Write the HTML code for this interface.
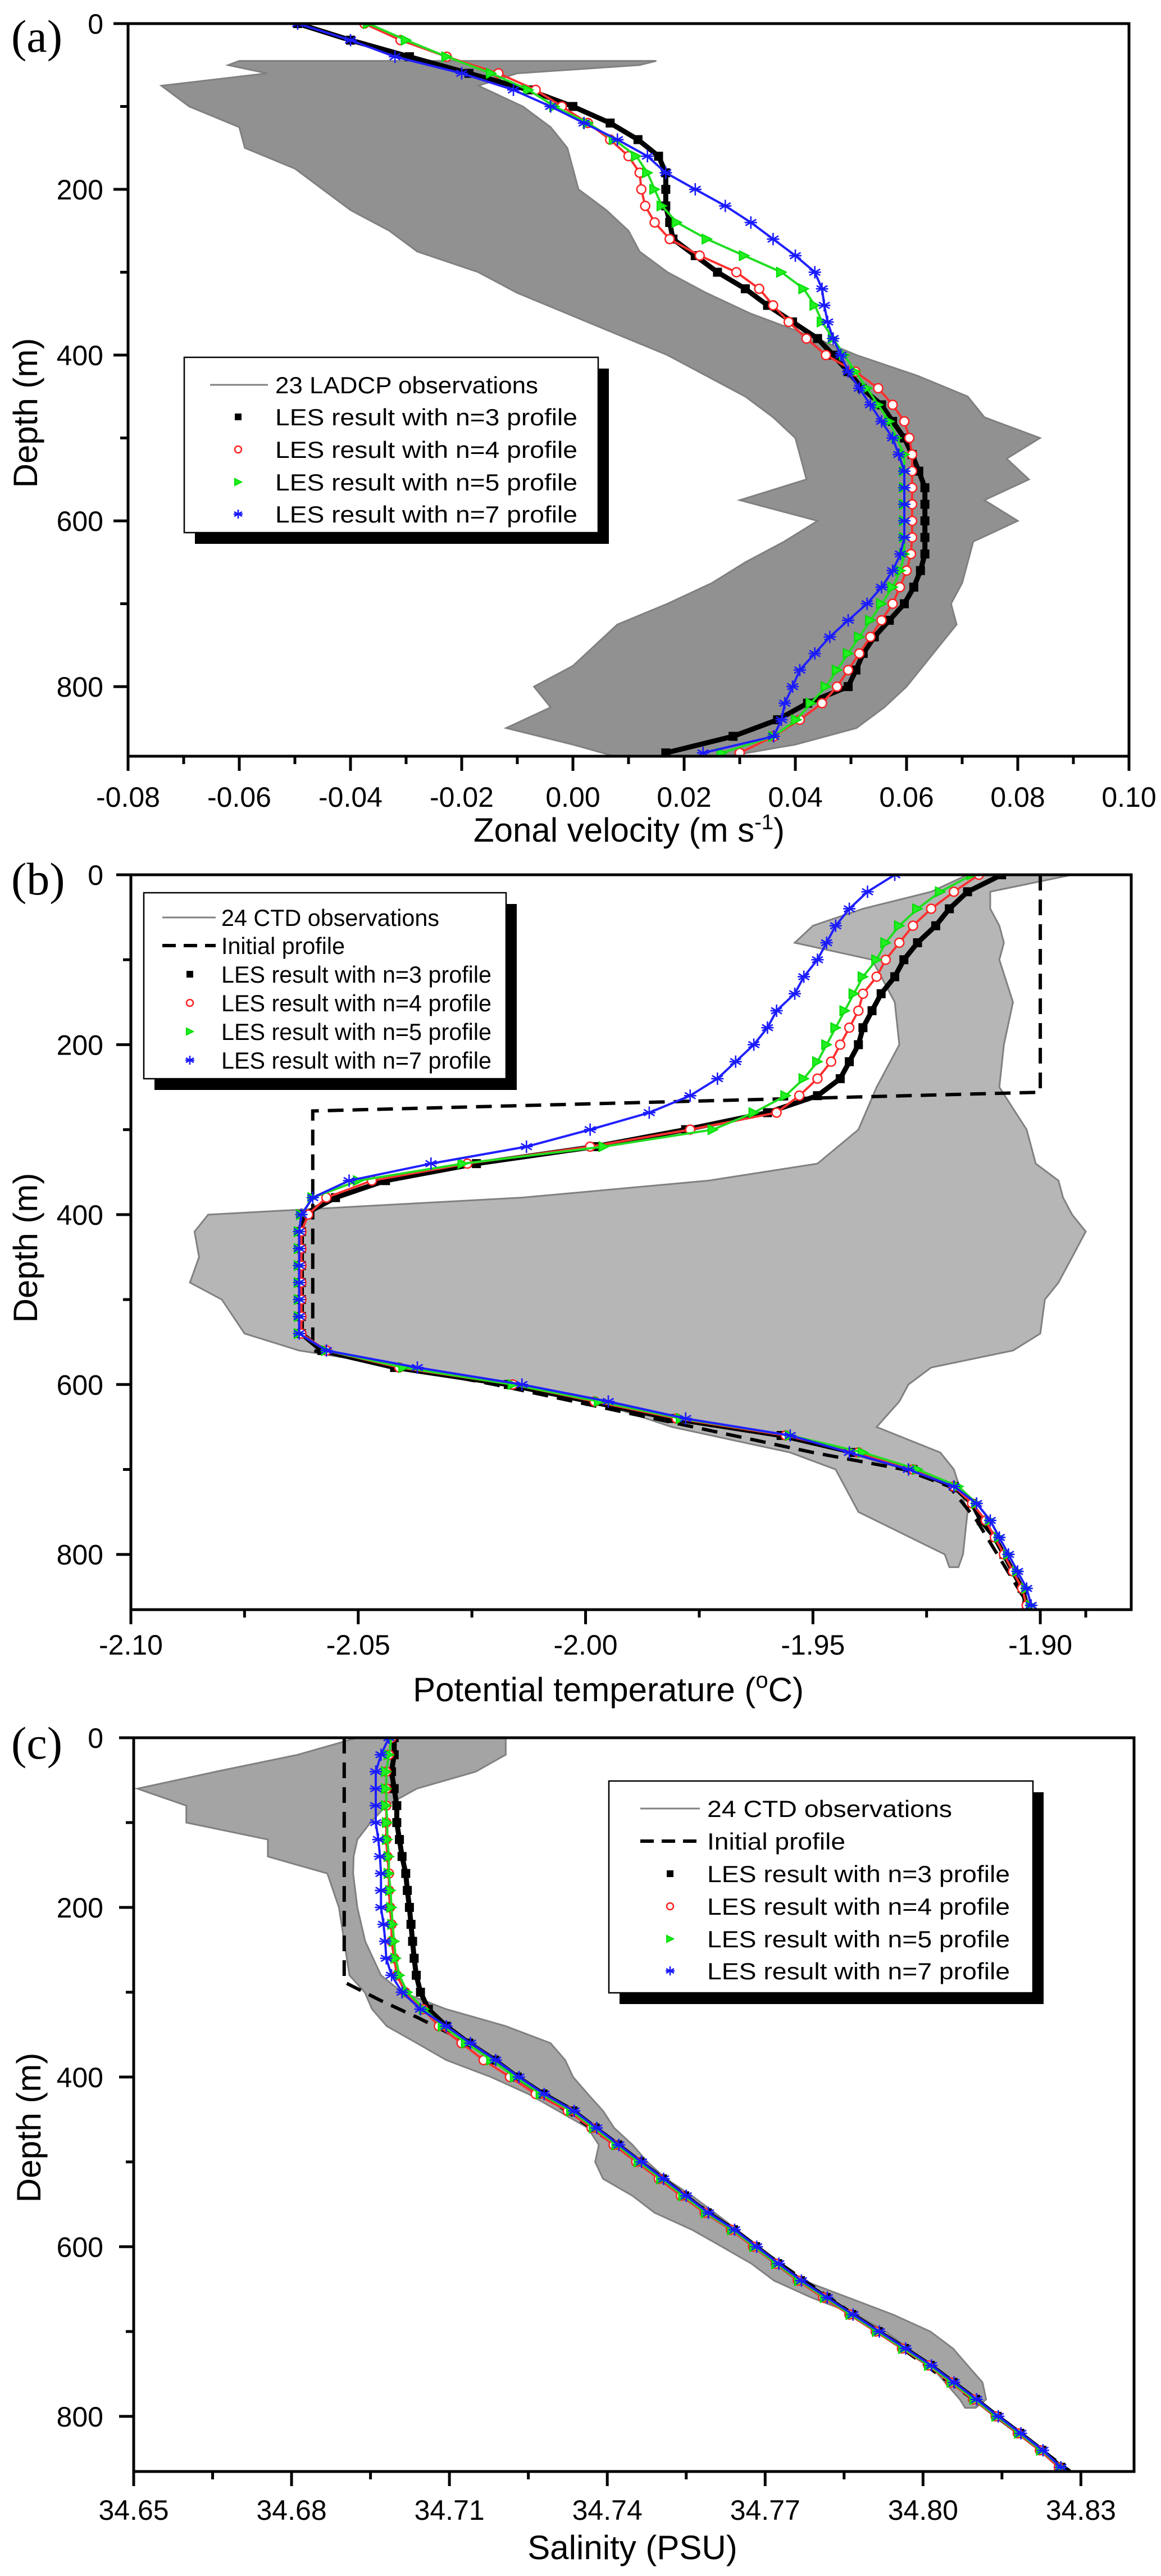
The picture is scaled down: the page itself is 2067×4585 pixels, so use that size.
<!DOCTYPE html>
<html><head><meta charset="utf-8"><title>LES profiles</title>
<style>html,body{margin:0;padding:0;background:#fff}svg{display:block}text{font-family:"Liberation Sans",Arial,sans-serif}</style>
</head><body>
<svg id="fig" xmlns="http://www.w3.org/2000/svg" width="2067" height="4585" viewBox="0 0 2067 4585">
<rect width="2067" height="4585" fill="#fff"/>
</svg>
<script>
// ---------- Panel (a) data: zonal velocity ----------
const aDepth = [0,20,40,60,80,100,120,140,160,180,200,220,240,260,280,300,320,340,360,380,400,420,440,460,480,500,520,540,560,580,600,620,640,660,680,700,720,740,760,780,800,820,840,860,880];
const aN3 = [-0.0495,-0.040,-0.0294,-0.0187,-0.008,0.000,0.0067,0.0117,0.0154,0.0167,0.0167,0.0167,0.0174,0.018,0.022,0.026,0.031,0.035,0.0395,0.044,0.0468,0.0495,0.052,0.0555,0.0575,0.0596,0.061,0.0622,0.0633,0.0633,0.0633,0.0633,0.0633,0.0625,0.0613,0.0596,0.0569,0.0542,0.0522,0.0509,0.0495,0.0422,0.0368,0.0288,0.0167];
const aN4 = [-0.0375,-0.031,-0.0227,-0.0134,-0.0067,-0.002,0.0027,0.0067,0.010,0.012,0.0123,0.013,0.0147,0.0174,0.0228,0.0294,0.0335,0.036,0.0388,0.042,0.0455,0.0508,0.0549,0.0575,0.0596,0.0605,0.061,0.061,0.061,0.061,0.061,0.061,0.0608,0.060,0.0588,0.0575,0.0555,0.0535,0.0515,0.0495,0.0475,0.0448,0.0408,0.0361,0.030];
const aN5 = [-0.0368,-0.030,-0.0227,-0.0147,-0.008,-0.0033,0.0027,0.0074,0.0114,0.0134,0.0147,0.016,0.0187,0.0241,0.0308,0.0375,0.0415,0.0435,0.0448,0.0468,0.0488,0.0508,0.0529,0.0549,0.0569,0.0582,0.0596,0.0596,0.0596,0.0596,0.0596,0.0596,0.0596,0.0589,0.0575,0.0555,0.0535,0.0515,0.0495,0.0475,0.0455,0.0428,0.0402,0.0361,0.0268];
const aN7 = [-0.0495,-0.040,-0.032,-0.020,-0.0107,-0.004,0.002,0.008,0.0134,0.0167,0.022,0.0274,0.032,0.036,0.040,0.0435,0.0448,0.0452,0.0458,0.0468,0.0482,0.0495,0.0515,0.0535,0.0555,0.0575,0.0586,0.0596,0.0596,0.0596,0.0596,0.0596,0.0589,0.0575,0.0555,0.0529,0.0495,0.0462,0.0435,0.0408,0.0395,0.0381,0.0375,0.0361,0.0234];
const aEnvDepth = [45,50,60,75,100,125,150,175,200,225,250,275,300,325,350,375,400,425,450,475,500,525,550,575,600,625,650,675,700,725,750,775,800,825,850,870,885];
const aEnvLeft  = [-0.060,-0.062,-0.055,-0.074,-0.069,-0.060,-0.059,-0.050,-0.045,-0.040,-0.033,-0.028,-0.017,-0.010,-0.001,0.008,0.017,0.024,0.031,0.036,0.040,0.041,0.042,0.030,0.044,0.038,0.031,0.025,0.017,0.008,0.004,0.000,-0.007,-0.004,-0.012,0.000,0.008];
const aEnvRight = [0.015,0.012,-0.010,-0.017,-0.009,-0.004,-0.001,0.000,0.001,0.006,0.010,0.012,0.017,0.024,0.032,0.042,0.051,0.062,0.071,0.074,0.084,0.078,0.082,0.074,0.080,0.072,0.071,0.070,0.068,0.069,0.066,0.063,0.060,0.056,0.051,0.040,0.027];
const aXTicks = ["-0.08","-0.06","-0.04","-0.02","0.00","0.02","0.04","0.06","0.08","0.10"];

// ---------- Panel (b) data: potential temperature ----------
const bDepth = [0,20,40,60,80,100,120,140,160,180,200,220,240,260,280,300,320,340,360,380,400,420,440,460,480,500,520,540,560,580,600,620,640,660,680,700,720,740,760,780,800,820,840,860];
const bN3 = [-1.9085,-1.916,-1.920,-1.923,-1.927,-1.930,-1.932,-1.935,-1.937,-1.939,-1.940,-1.942,-1.944,-1.949,-1.960,-1.978,-1.998,-2.024,-2.044,-2.055,-2.062,-2.0625,-2.0625,-2.0625,-2.0625,-2.0625,-2.0625,-2.0625,-2.058,-2.042,-2.017,-1.999,-1.981,-1.957,-1.941,-1.928,-1.919,-1.915,-1.913,-1.910,-1.908,-1.906,-1.904,-1.903];
const bN4 = [-1.9135,-1.919,-1.924,-1.928,-1.931,-1.934,-1.936,-1.939,-1.940,-1.942,-1.944,-1.946,-1.949,-1.953,-1.958,-1.977,-1.999,-2.026,-2.047,-2.057,-2.061,-2.0625,-2.0625,-2.0625,-2.0625,-2.0625,-2.0625,-2.0625,-2.057,-2.041,-2.016,-1.998,-1.980,-1.956,-1.940,-1.928,-1.919,-1.915,-1.912,-1.910,-1.908,-1.906,-1.904,-1.903];
const bN5 = [-1.915,-1.922,-1.927,-1.931,-1.934,-1.936,-1.939,-1.941,-1.943,-1.945,-1.947,-1.949,-1.952,-1.956,-1.963,-1.972,-1.996,-2.027,-2.050,-2.060,-2.0625,-2.063,-2.063,-2.063,-2.063,-2.063,-2.063,-2.063,-2.057,-2.040,-2.016,-1.997,-1.979,-1.955,-1.939,-1.927,-1.918,-1.914,-1.911,-1.909,-1.907,-1.905,-1.903,-1.902];
const bN7 = [-1.932,-1.938,-1.942,-1.945,-1.947,-1.949,-1.952,-1.954,-1.958,-1.960,-1.963,-1.967,-1.971,-1.977,-1.986,-1.999,-2.013,-2.034,-2.052,-2.060,-2.0625,-2.063,-2.063,-2.063,-2.063,-2.063,-2.063,-2.063,-2.057,-2.037,-2.014,-1.995,-1.978,-1.955,-1.942,-1.929,-1.919,-1.914,-1.911,-1.909,-1.907,-1.905,-1.903,-1.902];
const bInitDepth = [0,256,278,560,575,600,640,680,700,720,760,865];
const bInitVal = [-1.900,-1.900,-2.060,-2.060,-2.045,-2.020,-1.985,-1.950,-1.930,-1.920,-1.914,-1.902];
const bEnvDepth = [0,20,40,60,80,100,150,200,250,300,340,360,380,400,420,450,480,500,540,560,580,600,620,650,680,700,750,800,815];
const bEnvLeft  = [-1.916,-1.924,-1.939,-1.950,-1.954,-1.937,-1.932,-1.931,-1.936,-1.940,-1.949,-1.973,-2.014,-2.083,-2.086,-2.085,-2.087,-2.080,-2.075,-2.063,-2.039,-2.014,-1.998,-1.981,-1.955,-1.945,-1.940,-1.921,-1.920];
const bEnvRight = [-1.893,-1.911,-1.911,-1.909,-1.908,-1.909,-1.906,-1.908,-1.909,-1.903,-1.901,-1.896,-1.895,-1.893,-1.890,-1.893,-1.896,-1.899,-1.900,-1.906,-1.924,-1.929,-1.931,-1.936,-1.922,-1.919,-1.916,-1.917,-1.918];
const bXTicks = ["-2.10","-2.05","-2.00","-1.95","-1.90"];

// ---------- Panel (c) data: salinity ----------
const cDepth = bDepth;
const cN3 = [34.6995,34.6995,34.699,34.6995,34.700,34.700,34.7005,34.701,34.7017,34.702,34.7024,34.7027,34.703,34.7033,34.7037,34.7045,34.706,34.7094,34.7137,34.7186,34.7229,34.7278,34.7335,34.7377,34.742,34.7462,34.7505,34.7547,34.759,34.764,34.7682,34.7724,34.7767,34.7816,34.7865,34.7915,34.7965,34.8014,34.8057,34.81,34.8141,34.8184,34.8226,34.8262];
const cN4 = [34.699,34.6985,34.698,34.698,34.698,34.698,34.698,34.6982,34.6985,34.6985,34.6987,34.699,34.699,34.6995,34.700,34.7016,34.705,34.708,34.7123,34.7165,34.7215,34.7264,34.7325,34.737,34.7412,34.7455,34.7498,34.754,34.7585,34.7635,34.7677,34.772,34.7762,34.781,34.786,34.791,34.796,34.801,34.8052,34.8095,34.8138,34.818,34.8222,34.8258];
const cN5 = [34.699,34.6985,34.698,34.698,34.698,34.6982,34.6982,34.6985,34.6985,34.6988,34.699,34.6992,34.6995,34.6998,34.7005,34.702,34.7052,34.7088,34.7132,34.718,34.7225,34.7274,34.7332,34.7375,34.7418,34.746,34.7503,34.7545,34.7588,34.7638,34.768,34.7722,34.7765,34.7814,34.7863,34.7913,34.7963,34.8012,34.8055,34.8098,34.814,34.8183,34.8225,34.8262];
const cN7 = [34.6985,34.697,34.696,34.696,34.696,34.696,34.6965,34.6968,34.697,34.697,34.697,34.6975,34.6978,34.698,34.699,34.701,34.7045,34.7094,34.714,34.7188,34.7232,34.728,34.7337,34.738,34.7422,34.7465,34.7507,34.755,34.7592,34.7642,34.7684,34.7726,34.7769,34.7818,34.7867,34.7917,34.7967,34.8016,34.8059,34.8102,34.8143,34.8186,34.8228,34.8262];
const cInitDepth = [0,288,310,330,360,400,500,600,700,800,865];
const cInitVal = [34.690,34.690,34.697,34.704,34.7137,34.7229,34.7462,34.7682,34.7915,34.8141,34.828];
const cEnvDepth = [0,20,40,60,80,100,120,140,160,200,240,280,300,320,340,360,380,400,420,440,460,480,500,520,540,560,580,600,620,640,660,680,700,720,740,760,780,790];
const cEnvLeft  = [34.6925,34.6812,34.6656,34.6507,34.66,34.66,34.6755,34.6755,34.6868,34.689,34.690,34.691,34.6939,34.6953,34.6981,34.7038,34.7094,34.7179,34.725,34.7307,34.7363,34.7384,34.7377,34.7392,34.7448,34.749,34.7561,34.7618,34.7674,34.7717,34.7788,34.7873,34.7929,34.7972,34.8014,34.8042,34.807,34.808];
const cEnvRight = [34.7207,34.7207,34.715,34.7038,34.698,34.695,34.6925,34.6918,34.6917,34.6925,34.694,34.697,34.701,34.7094,34.7207,34.7292,34.732,34.7335,34.7363,34.7392,34.7413,34.7448,34.7476,34.7512,34.7561,34.7604,34.7646,34.7689,34.7731,34.7773,34.7858,34.7943,34.8014,34.8057,34.8085,34.8113,34.812,34.810];
const cXTicks = ["34.65","34.68","34.71","34.74","34.77","34.80","34.83"];

const yTicks = ["0","200","400","600","800"];

const NS = "http://www.w3.org/2000/svg";
const svg = document.getElementById('fig');
function mk(tag, attrs, parent) {
  const e = document.createElementNS(NS, tag);
  for (const k in attrs) e.setAttribute(k, attrs[k]);
  (parent || svg).appendChild(e);
  return e;
}

function marker(g, kind, x, y, s) {
  let e;
  if (kind === 'sq') {
    e = mk('rect', {x: x - s/2, y: y - s/2, width: s, height: s, fill: '#000'}, g);
  } else if (kind === 'ci') {
    e = mk('circle', {cx: x, cy: y, r: s/2, fill: '#fff', stroke: '#ff2020', 'stroke-width': 2.5}, g);
  } else if (kind === 'tr') {
    e = mk('path', {d: `M${x - s/2},${y - s/2}L${x + s/2},${y}L${x - s/2},${y + s/2}Z`, fill: '#22ee22', stroke: '#00dd00', 'stroke-width': 2}, g);
  } else {
    const r = s/2;
    e = mk('path', {d: `M${x},${y - r}L${x},${y + r}M${x - r*0.87},${y - r/2}L${x + r*0.87},${y + r/2}M${x - r*0.87},${y + r/2}L${x + r*0.87},${y - r/2}M${x - r},${y}L${x + r},${y}`, stroke: '#1a1aff', 'stroke-width': 2.6, fill: 'none'}, g);
  }
  return e;
}

const lineColors = {sq: '#000', ci: '#ff3030', tr: '#22dd22', st: '#2020ff'};

function panel(P) {
  const g = mk('g', {});
  
  
  const sx = v => P.x0 + (v - P.xmin) / (P.xmax - P.xmin) * (P.x1 - P.x0);
  const sy = d => P.y0 + d / P.dmax * (P.y1 - P.y0);
  const clip = mk('clipPath', {id: 'clip-' + P.name}, g);
  mk('rect', {x: P.x0, y: P.y0, width: P.x1 - P.x0, height: P.y1 - P.y0}, clip);
  const plot = mk('g', {'clip-path': `url(#clip-${P.name})`}, g);
  
  

  let pts = [];
  P.envD.forEach((d, i) => pts.push(sx(P.envL[i]).toFixed(1) + ',' + sy(d).toFixed(1)));
  for (let i = P.envD.length - 1; i >= 0; i--) pts.push(sx(P.envR[i]).toFixed(1) + ',' + sy(P.envD[i]).toFixed(1));
  const env = mk('polygon', {points: pts.join(' '), fill: '#858585', 'fill-opacity': P.envOp, stroke: '#808080', 'stroke-width': 3}, plot);
  
  

  if (P.initD) {
    const ip = P.initD.map((d, i) => sx(P.initV[i]).toFixed(1) + ',' + sy(d).toFixed(1)).join(' ');
    const il = mk('polyline', {points: ip, fill: 'none', stroke: '#000', 'stroke-width': 6, 'stroke-dasharray': '28,16'}, plot);
    
    
  }
  const series = [['sq', P.s3, 'series-n3', 16], ['ci', P.s4, 'series-n4', 16], ['tr', P.s5, 'series-n5', 17], ['st', P.s7, 'series-n7', 22]];
  series.forEach(s => {
    const sg = mk('g', {}, plot);
    
    
    const lp = s[1].map((v, i) => sx(v).toFixed(1) + ',' + sy(P.depth[i]).toFixed(1)).join(' ');
    mk('polyline', {points: lp, fill: 'none', stroke: lineColors[s[0]], 'stroke-width': s[0] === 'sq' ? 9 : 4}, sg);
    s[1].forEach((v, i) => {
      const m = marker(sg, s[0], sx(v), sy(P.depth[i]), s[3]);
      
      
    });
  });

  const fr = mk('rect', {x: P.x0, y: P.y0, width: P.x1 - P.x0, height: P.y1 - P.y0, fill: 'none', stroke: '#000', 'stroke-width': 5}, g);
  
  

  const xa = mk('g', {}, g);
  
  
  P.xt.forEach((lab, i) => {
    const v = parseFloat(lab);
    const x = sx(v);
    mk('line', {x1: x, y1: P.y1, x2: x, y2: P.y1 + 26, stroke: '#000', 'stroke-width': 5}, xa);
    const t = mk('text', {x: x, y: P.y1 + P.xlabOff, 'font-size': 50, 'text-anchor': 'middle'}, xa);
    t.textContent = lab;
    
    
    if (i < P.xt.length - 1) {
      const mv = (v + parseFloat(P.xt[i + 1])) / 2;
      const mx = sx(mv);
      mk('line', {x1: mx, y1: P.y1, x2: mx, y2: P.y1 + 14, stroke: '#000', 'stroke-width': 5}, xa);
    }
  });
  if (P.extraMinor) { const mx = sx(P.extraMinor); mk('line', {x1: mx, y1: P.y1, x2: mx, y2: P.y1 + 14, stroke: '#000', 'stroke-width': 5}, xa); }
  const xt = mk('text', {x: P.titleX, y: P.y1 + P.titleOff, 'font-size': 60, 'text-anchor': 'middle'}, xa);
  
  
  xt.innerHTML = P.title;

  const ya = mk('g', {}, g);
  
  
  yTicks.forEach(lab => {
    const d = parseFloat(lab);
    const y = sy(d);
    mk('line', {x1: P.x0 - 26, y1: y, x2: P.x0, y2: y, stroke: '#000', 'stroke-width': 5}, ya);
    const t = mk('text', {x: 184, y: y + 18, 'font-size': 50, 'text-anchor': 'end'}, ya);
    t.textContent = lab;
    
    
    const my = sy(d + 100);
    if (d + 100 < P.dmax) mk('line', {x1: P.x0 - 14, y1: my, x2: P.x0, y2: my, stroke: '#000', 'stroke-width': 5}, ya);
  });
  const ytl = mk('text', {x: 0, y: 0, 'font-size': 60, 'text-anchor': 'middle', transform: `translate(${P.ytX},${P.ytY}) rotate(-90)`}, ya);
  ytl.textContent = 'Depth (m)';
  
  

  const pl = mk('text', {x: 20, y: P.labY, 'font-size': 82, style: 'font-family:"Liberation Serif",serif'}, g);
  pl.textContent = P.label;
  
  

  const L = P.leg;
  const lg = mk('g', {}, g);
  
  
  mk('rect', {x: L.x + 19, y: L.y + 20, width: L.w, height: L.h, fill: '#000'}, lg);
  mk('rect', {x: L.x, y: L.y, width: L.w, height: L.h, fill: '#fff', stroke: '#000', 'stroke-width': 2.5}, lg);
  L.items.forEach((it, i) => {
    const y = L.ys[i];
    const eg = mk('g', {}, lg);
    
    
    if (it[0] === 'obs') mk('line', {x1: L.lx0, y1: y, x2: L.lx1, y2: y, stroke: '#808080', 'stroke-width': 3}, eg);
    else if (it[0] === 'init') mk('line', {x1: L.lx0, y1: y, x2: L.lx1, y2: y, stroke: '#000', 'stroke-width': 6, 'stroke-dasharray': '24,14'}, eg);
    else marker(eg, it[0], L.mx, y, it[0] === 'st' ? 16 : 12);
    const t = mk('text', {x: L.tx, y: y + 15, 'font-size': 42, textLength: it[2], lengthAdjust: 'spacingAndGlyphs'}, eg);
    t.textContent = it[1];
  });
}

const legItemsA = [['obs', '23 LADCP observations', 468], ['sq', 'LES result with n=3 profile', 538], ['ci', 'LES result with n=4 profile', 538], ['tr', 'LES result with n=5 profile', 538], ['st', 'LES result with n=7 profile', 538]];
panel({name: 'panel-a-zonal-velocity', label: '(a)', labY: 92,
  x0: 228, x1: 2010, xmin: -0.08, xmax: 0.10, y0: 42, y1: 1346, dmax: 884,
  depth: aDepth, s3: aN3, s4: aN4, s5: aN5, s7: aN7,
  envD: aEnvDepth, envL: aEnvLeft, envR: aEnvRight, envOp: 0.9,
  xt: aXTicks, xlabOff: 90, titleOff: 152, titleX: 1120,
  title: 'Zonal velocity (m s<tspan dy="-22" font-size="38">-1</tspan><tspan dy="22">)</tspan>',
  ytX: 66, ytY: 735,
  leg: {x: 328, y: 636, w: 737, h: 312, lx0: 374, lx1: 477, mx: 424, tx: 490, ys: [685, 742, 800, 858, 915], items: legItemsA}
});
const legItemsB = [['obs', '24 CTD observations', 388], ['init', 'Initial profile', 220], ['sq', 'LES result with n=3 profile', 481], ['ci', 'LES result with n=4 profile', 481], ['tr', 'LES result with n=5 profile', 481], ['st', 'LES result with n=7 profile', 481]];
panel({name: 'panel-b-potential-temperature', label: '(b)', labY: 1592,
  x0: 233, x1: 2014, xmin: -2.10, xmax: -1.88, y0: 1557, y1: 2865, dmax: 865,
  depth: bDepth, s3: bN3, s4: bN4, s5: bN5, s7: bN7,
  envD: bEnvDepth, envL: bEnvLeft, envR: bEnvRight, envOp: 0.6,
  initD: bInitDepth, initV: bInitVal, extraMinor: -1.89,
  xt: bXTicks, xlabOff: 80, titleOff: 163, titleX: 1083,
  title: 'Potential temperature (<tspan dy="-24" font-size="40">o</tspan><tspan dy="24">C)</tspan>',
  ytX: 66, ytY: 2221,
  leg: {x: 256, y: 1589, w: 645, h: 331, lx0: 289, lx1: 384, mx: 338, tx: 394, ys: [1633, 1683, 1734, 1785, 1836, 1887], items: legItemsB}
});
const legItemsC = [['obs', '24 CTD observations', 436], ['init', 'Initial profile', 246], ['sq', 'LES result with n=3 profile', 539], ['ci', 'LES result with n=4 profile', 539], ['tr', 'LES result with n=5 profile', 539], ['st', 'LES result with n=7 profile', 539]];
panel({name: 'panel-c-salinity', label: '(c)', labY: 3130,
  x0: 238, x1: 2019, xmin: 34.65, xmax: 34.8401, y0: 3093, y1: 4399, dmax: 865,
  depth: cDepth, s3: cN3, s4: cN4, s5: cN5, s7: cN7,
  envD: cEnvDepth, envL: cEnvLeft, envR: cEnvRight, envOp: 0.75,
  initD: cInitDepth, initV: cInitVal,
  xt: cXTicks, xlabOff: 86, titleOff: 156, titleX: 1126,
  title: 'Salinity (PSU)',
  ytX: 72, ytY: 3787,
  leg: {x: 1084, y: 3170, w: 755, h: 377, lx0: 1140, lx1: 1246, mx: 1193, tx: 1259, ys: [3219, 3277, 3335, 3393, 3451, 3508], items: legItemsC}
});
</script>
</body></html>
